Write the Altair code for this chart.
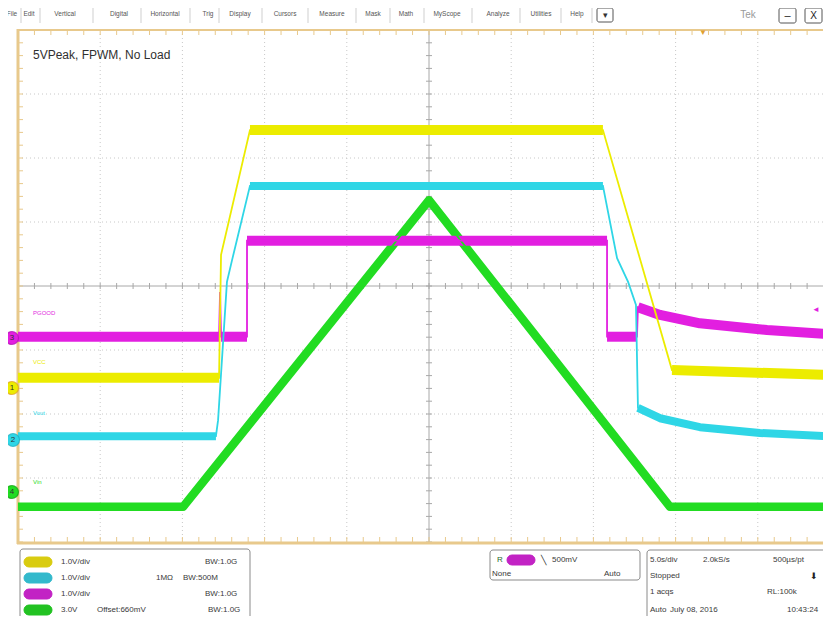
import altair as alt
import pandas as pd

# ---------------- values read from the screen ----------------
# time: 5.0 s/div over 10 divisions; levels in volts (1.0 V/div) measured from each channel's ground marker
ch_names = ["Ch1", "Ch2", "Ch3", "Ch4"]
ch_labels = ["VCC", "Vout", "PGOOD", "Vin"]
ch_numbers = ["1", "2", "3", "4"]
ch_position = [-1.594, -2.406, -0.8125, -3.22]   # ground marker, divisions from screen centre
ch_vdiv = [1.0, 1.0, 1.0, 1.0]

ch1_t = [-25.0, -12.77, -12.65, -10.89, 10.58, 14.78, 25.0]
ch1_v = [0.16, 0.16, 2.08, 4.03, 4.03, 0.28, 0.20]

ch2_t = [-25.0, -12.96, -12.83, -12.29, -11.98, -10.89, 10.58, 11.44, 12.11, 12.59, 12.71, 14.05, 16.48, 20.13, 25.0]
ch2_v = [0.06, 0.06, 0.31, 2.47, 2.81, 3.97, 3.97, 2.84, 2.47, 2.11, 0.50, 0.34, 0.20, 0.11, 0.05]

ch3_t = [-25.0, -12.77, -12.71, -12.65, -11.07, -11.07, 10.83, 10.83, 12.65, 12.71, 14.05, 16.48, 20.56, 25.0]
ch3_v = [0.02, 0.02, 0.72, 0.02, 0.02, 1.52, 1.52, 0.02, 0.02, 0.48, 0.36, 0.23, 0.125, 0.05]

ch4_t = [-25.0, -14.96, 0.0, 14.66, 25.0]
ch4_v = [-0.23, -0.23, 4.56, -0.23, -0.23]

# stretches of each trace that show the wide noise band (index ranges into the arrays above)
noisy_runs = [
    [(0, 1), (3, 4), (5, 6)],
    [(0, 1), (5, 6), (10, 14)],
    [(0, 1), (3, 4), (5, 6), (7, 8), (9, 13)],
    [(0, 4)],
]

menu_items = ["File", "Edit", "Vertical", "Digital", "Horizontal", "Trig", "Display", "Cursors",
              "Measure", "Mask", "Math", "MyScope", "Analyze", "Utilities", "Help"]

# ---------------- styles / layout ----------------
colors = ["#ecec00", "#2fd6e6", "#e21fe0", "#22dc22"]
pill_colors = ["#d9cc10", "#33b9cc", "#c223c4", "#22c222"]
band_width = [10, 8, 10, 8.5]
TAN = "#e8c98c"
FONT = "Liberation Sans"
W, H = 815, 608
X_SC = alt.Scale(domain=[-25, 25], range=[10, 832], nice=False, zero=False)
Y_SC = alt.Scale(domain=[-4, 4], range=[534, 22], nice=False, zero=False)

series = [(ch1_t, ch1_v), (ch2_t, ch2_v), (ch3_t, ch3_v), (ch4_t, ch4_v)]

layers = []

# ---------- graticule ----------
grid_t = pd.DataFrame({"t": [-20, -15, -10, -5, 5, 10, 15, 20]})
grid_v = pd.DataFrame({"v": [-3, -2, -1, 1, 2, 3]})
layers.append(alt.Chart(grid_t).mark_rule(color="#c8c8c8", strokeDash=[1, 3], strokeWidth=1).encode(
    x=alt.X("t:Q", scale=X_SC, axis=None), y=alt.value(22), y2=alt.value(534)))
layers.append(alt.Chart(grid_v).mark_rule(color="#c8c8c8", strokeDash=[1, 3], strokeWidth=1).encode(
    y=alt.Y("v:Q", scale=Y_SC, axis=None), x=alt.value(10), x2=alt.value(W)))
layers.append(alt.Chart(pd.DataFrame({"t": [0]})).mark_rule(color="#a8a8a8", strokeWidth=1).encode(
    x=alt.X("t:Q", scale=X_SC, axis=None), y=alt.value(22), y2=alt.value(534)))
layers.append(alt.Chart(pd.DataFrame({"v": [0]})).mark_rule(color="#a8a8a8", strokeWidth=1).encode(
    y=alt.Y("v:Q", scale=Y_SC, axis=None), x=alt.value(10), x2=alt.value(W)))

minor_t = pd.DataFrame({"t": list(range(-25, 26))})
minor_v = pd.DataFrame({"v": [round(-4 + 0.2 * i, 2) for i in range(41)]})
layers.append(alt.Chart(minor_t).mark_rule(color="#a8a8a8").encode(
    x=alt.X("t:Q", scale=X_SC, axis=None), y=alt.value(275), y2=alt.value(281)))
layers.append(alt.Chart(minor_v).mark_rule(color="#a8a8a8").encode(
    y=alt.Y("v:Q", scale=Y_SC, axis=None), x=alt.value(418), x2=alt.value(424)))
# frame ticks
layers.append(alt.Chart(minor_t).mark_rule(color=TAN).encode(
    x=alt.X("t:Q", scale=X_SC, axis=None), y=alt.value(22), y2=alt.value(27)))
layers.append(alt.Chart(minor_t).mark_rule(color=TAN).encode(
    x=alt.X("t:Q", scale=X_SC, axis=None), y=alt.value(529), y2=alt.value(534)))
layers.append(alt.Chart(minor_v).mark_rule(color=TAN).encode(
    y=alt.Y("v:Q", scale=Y_SC, axis=None), x=alt.value(10), x2=alt.value(15)))
# frame
layers.append(alt.Chart(pd.DataFrame({"a": [0]})).mark_rule(color=TAN, strokeWidth=3).encode(
    x=alt.value(10), y=alt.value(21), y2=alt.value(536)))
layers.append(alt.Chart(pd.DataFrame({"a": [0]})).mark_rule(color=TAN, strokeWidth=2).encode(
    x=alt.value(9), x2=alt.value(W), y=alt.value(22)))
layers.append(alt.Chart(pd.DataFrame({"a": [0]})).mark_rule(color=TAN, strokeWidth=3).encode(
    x=alt.value(9), x2=alt.value(W), y=alt.value(535)))

# ---------- traces ----------
thin_rows, band_rows = [], []
for i, (tt, vv) in enumerate(series):
    ys = [ch_position[i] + v / ch_vdiv[i] for v in vv]
    for k, (t, y) in enumerate(zip(tt, ys)):
        thin_rows.append(dict(ch=ch_names[i], seg=ch_names[i], o=k, t=t, y=y))
    for r, (a, b) in enumerate(noisy_runs[i]):
        for k in range(a, b + 1):
            band_rows.append(dict(ch=ch_names[i], seg=f"{ch_names[i]}_{r}", o=k, t=tt[k], y=ys[k]))
thin_df = pd.DataFrame(thin_rows)
band_df = pd.DataFrame(band_rows)

draw_order = [3, 2, 1, 0]
for i in draw_order:
    layers.append(alt.Chart(band_df[band_df["ch"] == ch_names[i]]).mark_line(
        color=colors[i], strokeWidth=band_width[i], clip=True, strokeJoin="round", strokeCap="butt").encode(
        x=alt.X("t:Q", scale=X_SC, axis=None), y=alt.Y("y:Q", scale=Y_SC, axis=None),
        detail="seg:N", order="o:Q"))
for i in draw_order:
    layers.append(alt.Chart(thin_df[thin_df["ch"] == ch_names[i]]).mark_line(
        color=colors[i], strokeWidth=1.8, clip=True).encode(
        x=alt.X("t:Q", scale=X_SC, axis=None), y=alt.Y("y:Q", scale=Y_SC, axis=None),
        detail="seg:N", order="o:Q"))

# ---------- screen chrome (pixel layout) ----------
texts, rects = [], []

def add_text(s, x, y, col="#3a3a3a", fs=8, align="left"):
    texts.append(dict(s=s, x=x, y=y, col=col, fs=fs, al=align))

def add_rect(x, x2, y, y2, fill="#ffffff", stroke="#8a8a8a", r=0):
    rects.append(dict(x=x, x2=x2, y=y, y2=y2, fill=fill, stroke=stroke, rad=r))

# menu bar
menu_x = [4, 21, 57, 111, 157, 200, 232, 277, 324, 365, 398, 439, 490, 533, 569]
sep_x = [13, 32, 85, 133, 182, 211, 254, 300, 348, 382, 416, 464, 512, 553, 584]
for s, x in zip(menu_items, menu_x):
    add_text(s, x, 6, col="#555555", fs=6.5, align="center")
seps = pd.DataFrame({"x": sep_x})
layers.append(alt.Chart(seps).mark_rule(color="#cfcfcf").encode(
    x=alt.X("x:Q", scale=None, axis=None), y=alt.value(0), y2=alt.value(15)))
add_rect(589, 605, 0, 14, stroke="#555555", r=2)
add_text("▾", 597, 7, col="#333333", fs=9, align="center")
add_text("Tek", 740, 7, col="#9a9a9a", fs=10, align="center")
add_rect(771, 788, 0, 15, stroke="#555555", r=2)
add_text("–", 779.5, 8, col="#222222", fs=11, align="center")
add_rect(797, 814, 0, 15, stroke="#555555", r=2)
add_text("X", 805.5, 8, col="#222222", fs=10, align="center")

# title
add_text("5VPeak, FPWM, No Load", 25, 47, col="#303030", fs=12)

# channel labels near the ground markers
label_y = [354, 405, 305, 474]
for i in range(4):
    add_text(ch_labels[i], 25, label_y[i], col=colors[i], fs=6)

# bottom left: vertical settings
add_rect(12, 242, 541, 625, stroke="#8a8a8a", r=3)
row_y = [554, 570, 586, 602]
for i in range(4):
    add_rect(16, 44, row_y[i] - 5, row_y[i] + 5, fill=pill_colors[i], stroke=pill_colors[i], r=5)
add_text("1.0V/div", 53, row_y[0]); add_text("BW:1.0G", 197, row_y[0])
add_text("1.0V/div", 53, row_y[1]); add_text("1MΩ", 148, row_y[1]); add_text("BW:500M", 175, row_y[1])
add_text("1.0V/div", 53, row_y[2]); add_text("BW:1.0G", 197, row_y[2])
add_text("3.0V", 53, row_y[3]); add_text("Offset:660mV", 89, row_y[3]); add_text("BW:1.0G", 200, row_y[3])

# trigger box
add_rect(482, 632, 542, 572, stroke="#8a8a8a", r=3)
add_text("R", 489, 552, col="#2a6a2a", fs=8)
add_rect(499, 527, 547, 557, fill=pill_colors[2], stroke=pill_colors[2], r=5)
add_text("╲", 533, 552, col="#333333", fs=9)
add_text("500mV", 544, 552)
add_text("None", 484, 566)
add_text("Auto", 596, 566)

# horizontal / acquisition box
add_rect(639, 835, 542, 625, stroke="#8a8a8a", r=3)
rr = [552, 568, 584, 602]
add_text("5.0s/div", 642, rr[0]); add_text("2.0kS/s", 695, rr[0]); add_text("500µs/pt", 765, rr[0])
add_text("Stopped", 642, rr[1]); add_text("⬇", 806, rr[1], col="#222222", fs=9, align="center")
add_text("1 acqs", 642, rr[2]); add_text("RL:100k", 759, rr[2])
add_text("Auto", 642, rr[3]); add_text("July 08, 2016", 662, rr[3]); add_text("10:43:24", 779, rr[3])

# trigger position / level markers
add_text("▼", 695, 25, col="#e0a030", fs=8, align="center")
add_text("◄", 808, 302, col=colors[2], fs=8, align="center")

rect_df = pd.DataFrame(rects)
for r in sorted(rect_df["rad"].unique()):
    layers.append(alt.Chart(rect_df[rect_df["rad"] == r]).mark_rect(cornerRadius=float(r), strokeWidth=1).encode(
        x=alt.X("x:Q", scale=None, axis=None), x2="x2:Q",
        y=alt.Y("y:Q", scale=None, axis=None), y2="y2:Q",
        fill=alt.Fill("fill:N", scale=None), stroke=alt.Stroke("stroke:N", scale=None)))

# ground markers
mk = pd.DataFrame({"x": [4, 5, 4, 4], "y": [380, 432, 330, 484], "num": ch_numbers,
                   "fill": colors, "stroke": ["#e0a020", "#22aabb", "#b010b0", "#10a010"]})
layers.append(alt.Chart(mk).mark_point(shape="circle", size=170, filled=True, opacity=1).encode(
    x=alt.X("x:Q", scale=None, axis=None), y=alt.Y("y:Q", scale=None, axis=None),
    fill=alt.Fill("fill:N", scale=None)))
layers.append(alt.Chart(mk).mark_point(shape="circle", size=170, filled=False, strokeWidth=1.2).encode(
    x=alt.X("x:Q", scale=None, axis=None), y=alt.Y("y:Q", scale=None, axis=None),
    stroke=alt.Stroke("stroke:N", scale=None)))
layers.append(alt.Chart(mk).mark_text(font=FONT, fontSize=8, color="#333333", baseline="middle").encode(
    x=alt.X("x:Q", scale=None, axis=None), y=alt.Y("y:Q", scale=None, axis=None), text="num:N"))

text_df = pd.DataFrame(texts)
for a in ["left", "center", "right"]:
    sub = text_df[text_df["al"] == a]
    if len(sub):
        layers.append(alt.Chart(sub).mark_text(align=a, baseline="middle", font=FONT).encode(
            x=alt.X("x:Q", scale=None, axis=None), y=alt.Y("y:Q", scale=None, axis=None),
            text="s:N", color=alt.Color("col:N", scale=None), size=alt.Size("fs:Q", scale=None)))

chart = alt.layer(*layers).resolve_scale(
    x="independent", y="independent", color="independent", fill="independent",
    stroke="independent", size="independent"
).properties(
    width=W, height=H, padding=0, autosize=alt.AutoSizeParams(type="none"), background="#ffffff"
).configure_view(stroke="transparent")

chart.save("out.html", embed_options={"renderer": "svg", "actions": False})
